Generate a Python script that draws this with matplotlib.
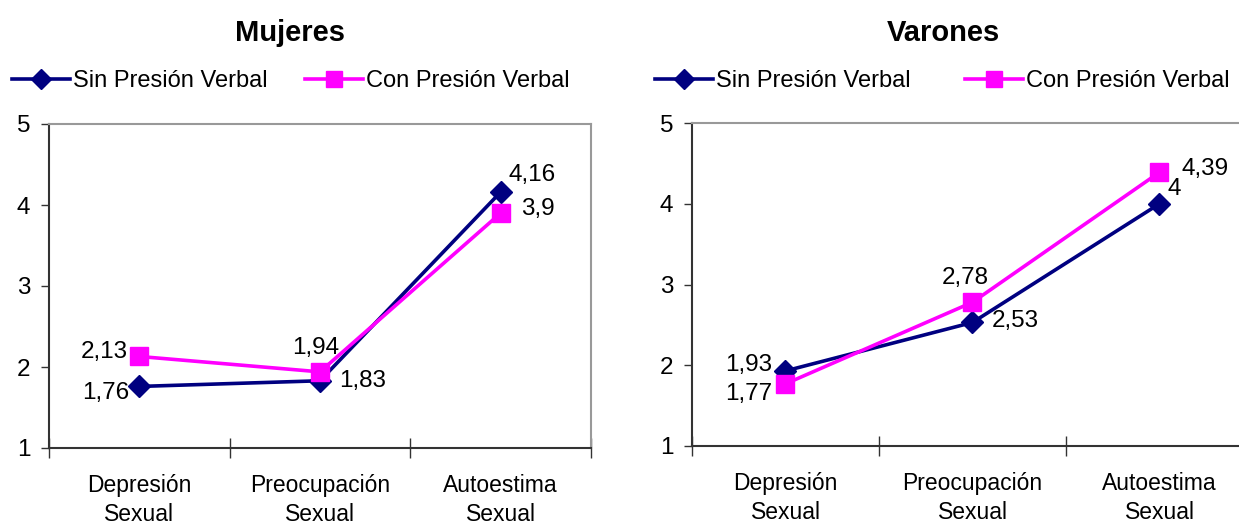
import matplotlib
matplotlib.use("Agg")
import matplotlib.pyplot as plt

plt.rcParams['font.family'] = ['Liberation Sans', 'DejaVu Sans']

categories = ["Depresión\nSexual", "Preocupación\nSexual", "Autoestima\nSexual"]
series_names = ["Sin Presión Verbal", "Con Presión Verbal"]

mujeres_sin = [1.76, 1.83, 4.16]
mujeres_con = [2.13, 1.94, 3.90]
varones_sin = [1.93, 2.53, 4.00]
varones_con = [1.77, 2.78, 4.39]

y_ticks = [1, 2, 3, 4, 5]

NAVY = "#000080"
MAGENTA = "#FF00FF"

W, H = 1239, 525
fig = plt.figure(figsize=(W / 100, H / 100), dpi=100)


def fmt(v):
    s = f"{v:.2f}".rstrip("0").rstrip(".")
    return s.replace(".", ",")


def panel(rect, title, sin, con, offsets_sin, offsets_con, legend_x,
          title_x, col_space):
    ax = fig.add_axes(rect)
    x = list(range(len(categories)))
    ax.plot(x, sin, color=NAVY, lw=2.6, marker="D", ms=11, mfc=NAVY,
            mec=NAVY, label=series_names[0], zorder=3)
    ax.plot(x, con, color=MAGENTA, lw=2.6, marker="s", ms=13, mfc=MAGENTA,
            mec=MAGENTA, label=series_names[1], zorder=4)

    for xi, v, off in zip(x, sin, offsets_sin):
        ax.annotate(fmt(v), (xi, v), xytext=off, textcoords="offset pixels",
                    ha="center", va="center", fontsize=17.5, zorder=5)
    for xi, v, off in zip(x, con, offsets_con):
        ax.annotate(fmt(v), (xi, v), xytext=off, textcoords="offset pixels",
                    ha="center", va="center", fontsize=17.5, zorder=5)

    ax.set_xlim(-0.5, 2.5)
    ax.set_ylim(1, 5)
    ax.set_yticks(y_ticks)
    ax.set_yticklabels([str(t) for t in y_ticks], fontsize=17.5)
    ax.set_xticks([-0.5, 0.5, 1.5, 2.5])
    ax.set_xticklabels([])
    ax.set_xticks(x, minor=True)
    ax.set_xticklabels(categories, minor=True, fontsize=16.5, linespacing=1.3)
    ax.tick_params(axis="x", which="major", direction="inout", length=14,
                   width=1, color="#333333")
    ax.tick_params(axis="x", which="minor", length=0, pad=19)
    ax.tick_params(axis="y", direction="out", length=6, width=1,
                   color="#333333", pad=7.5)
    for side in ("left", "bottom"):
        ax.spines[side].set_color("#333333")
        ax.spines[side].set_linewidth(1.5)
    for side in ("top", "right"):
        ax.spines[side].set_color("#999999")
        ax.spines[side].set_linewidth(1.5)

    fig.text(title_x / W, 1 - 33 / H, title, ha="center", va="center",
             fontsize=21, fontweight="bold")
    ax.legend(loc="center left", bbox_to_anchor=(legend_x / W, 1 - 81 / H),
              bbox_transform=fig.transFigure, ncol=2, frameon=False,
              fontsize=17, handlelength=2.45, handletextpad=0.13,
              columnspacing=col_space, borderpad=0, borderaxespad=0,
              markerscale=0.9)
    return ax


panel([49 / W, 1 - 448 / H, 542 / W, 324 / H], "Mujeres",
      mujeres_sin, mujeres_con,
      offsets_sin=[(-34, -7), (43, 0), (31, 17)],
      offsets_con=[(-35, 4), (-4, 24), (37, 4)],
      legend_x=12, title_x=290, col_space=1.6)

panel([692 / W, 1 - 446 / H, 561 / W, 323 / H], "Varones",
      varones_sin, varones_con,
      offsets_sin=[(-37, 6), (43, 1), (15, 15)],
      offsets_con=[(-37, -10), (-7, 24), (46, 3)],
      legend_x=655, title_x=943, col_space=2.3)

fig.savefig("out.png", dpi=100)
